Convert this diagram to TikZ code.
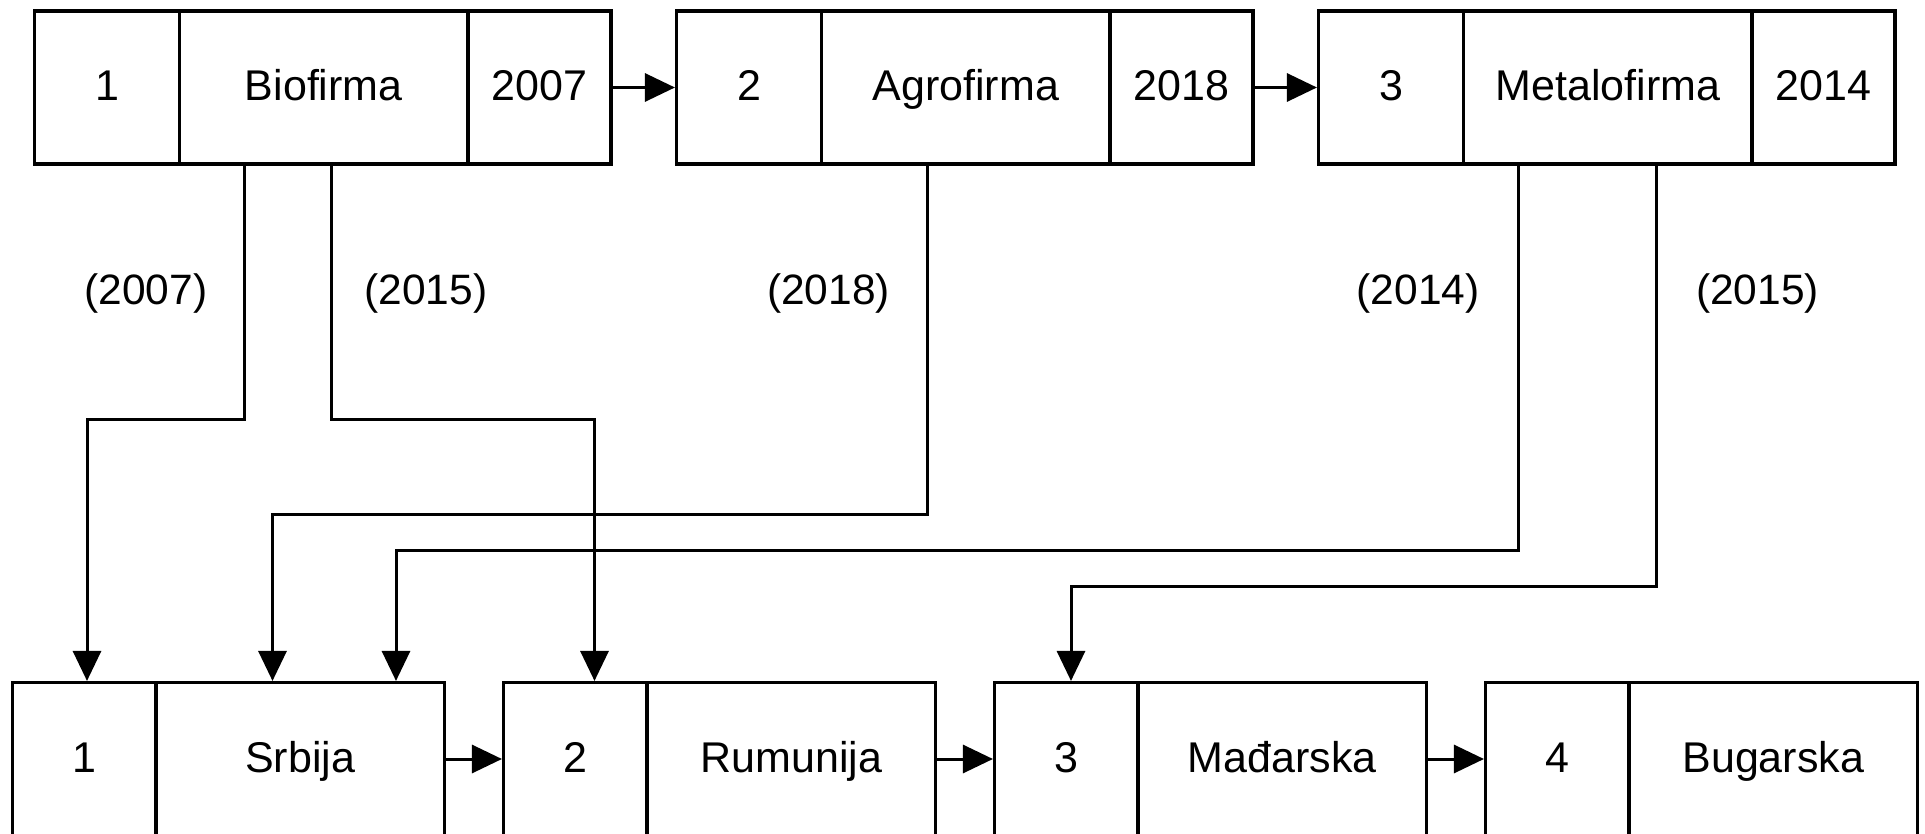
\documentclass[tikz,border=0pt]{standalone}
\usepackage{fontspec}
\setmainfont{Liberation Sans}
\usetikzlibrary{arrows.meta}
\begin{document}
\begin{tikzpicture}[x=1pt,y=-1pt,
  cell/.style={draw, line width=3.1pt, rectangle, inner sep=0pt, minimum height=153pt,
    font=\fontsize{43}{50}\selectfont, text height=30pt, text depth=3pt},
  ncell/.style={cell, minimum width=145pt},
  wcell/.style={cell, minimum width=288.5pt},
  ycell/.style={cell, minimum width=143pt},
  bncell/.style={cell, minimum width=143.5pt},
  conn/.style={line width=3pt, -{Triangle[length=30pt,width=28pt]}},
  lbl/.style={font=\fontsize{42.5}{50}\selectfont, inner sep=0pt}]
\useasboundingbox (0,0) rectangle (1925,834);
% top row: firms
\node[ncell] (f1n) at (107,87.5) {1};
\node[wcell] (f1m) at (323.75,87.5) {Biofirma};
\node[ycell] (f1y) at (539.5,87.5) {2007};
\node[ncell] (f2n) at (749,87.5) {2};
\node[wcell] (f2m) at (965.75,87.5) {Agrofirma};
\node[ycell] (f2y) at (1181.5,87.5) {2018};
\node[ncell] (f3n) at (1391,87.5) {3};
\node[wcell] (f3m) at (1607.75,87.5) {Metalofirma};
\node[ycell] (f3y) at (1823.5,87.5) {2014};
% bottom row: countries
\node[bncell] (c1n) at (84.25,759) {1};
\node[wcell] (c1m) at (300.25,759) {Srbija};
\node[bncell] (c2n) at (575.25,759) {2};
\node[wcell] (c2m) at (791.25,759) {Rumunija};
\node[bncell] (c3n) at (1066.25,759) {3};
\node[wcell] (c3m) at (1282.25,759) {Mađarska};
\node[bncell] (c4n) at (1557.25,759) {4};
\node[wcell] (c4m) at (1773.25,759) {Bugarska};
% chain arrows
\draw[conn] (f1y.east) -- (f2n.west);
\draw[conn] (f2y.east) -- (f3n.west);
\draw[conn] (c1m.east) -- (c2n.west);
\draw[conn] (c2m.east) -- (c3n.west);
\draw[conn] (c3m.east) -- (c4n.west);
% bend points
\coordinate (a1) at (244,419.5);   \coordinate (a2) at (87,419.5);
\coordinate (b1) at (331.5,419.5); \coordinate (b2) at (594.5,419.5);
\coordinate (d1) at (927.5,514);   \coordinate (d2) at (272.5,514);
\coordinate (e1) at (1518.5,550);  \coordinate (e2) at (396,550);
\coordinate (g1) at (1656,586);    \coordinate (g2) at (1071,586);
% connectors
\draw[conn] (f1m.south -| a1) -- (a1) -- (a2) -- (c1n.north -| a2);
\draw[conn] (f1m.south -| b1) -- (b1) -- (b2) -- (c2n.north -| b2);
\draw[conn] (f2m.south -| d1) -- (d1) -- (d2) -- (c1m.north -| d2);
\draw[conn] (f3m.south -| e1) -- (e1) -- (e2) -- (c1m.north -| e2);
\draw[conn] (f3m.south -| g1) -- (g1) -- (g2) -- (c3n.north -| g2);
% labels
\node[lbl] (l1) at (146,293.5) {(2007)};
\node[lbl] (l2) at (426,293.5) {(2015)};
\node[lbl] (l3) at (828.5,293.5) {(2018)};
\node[lbl] (l4) at (1418,293.5) {(2014)};
\node[lbl] (l5) at (1757.5,293.5) {(2015)};
\end{tikzpicture}
\end{document}
